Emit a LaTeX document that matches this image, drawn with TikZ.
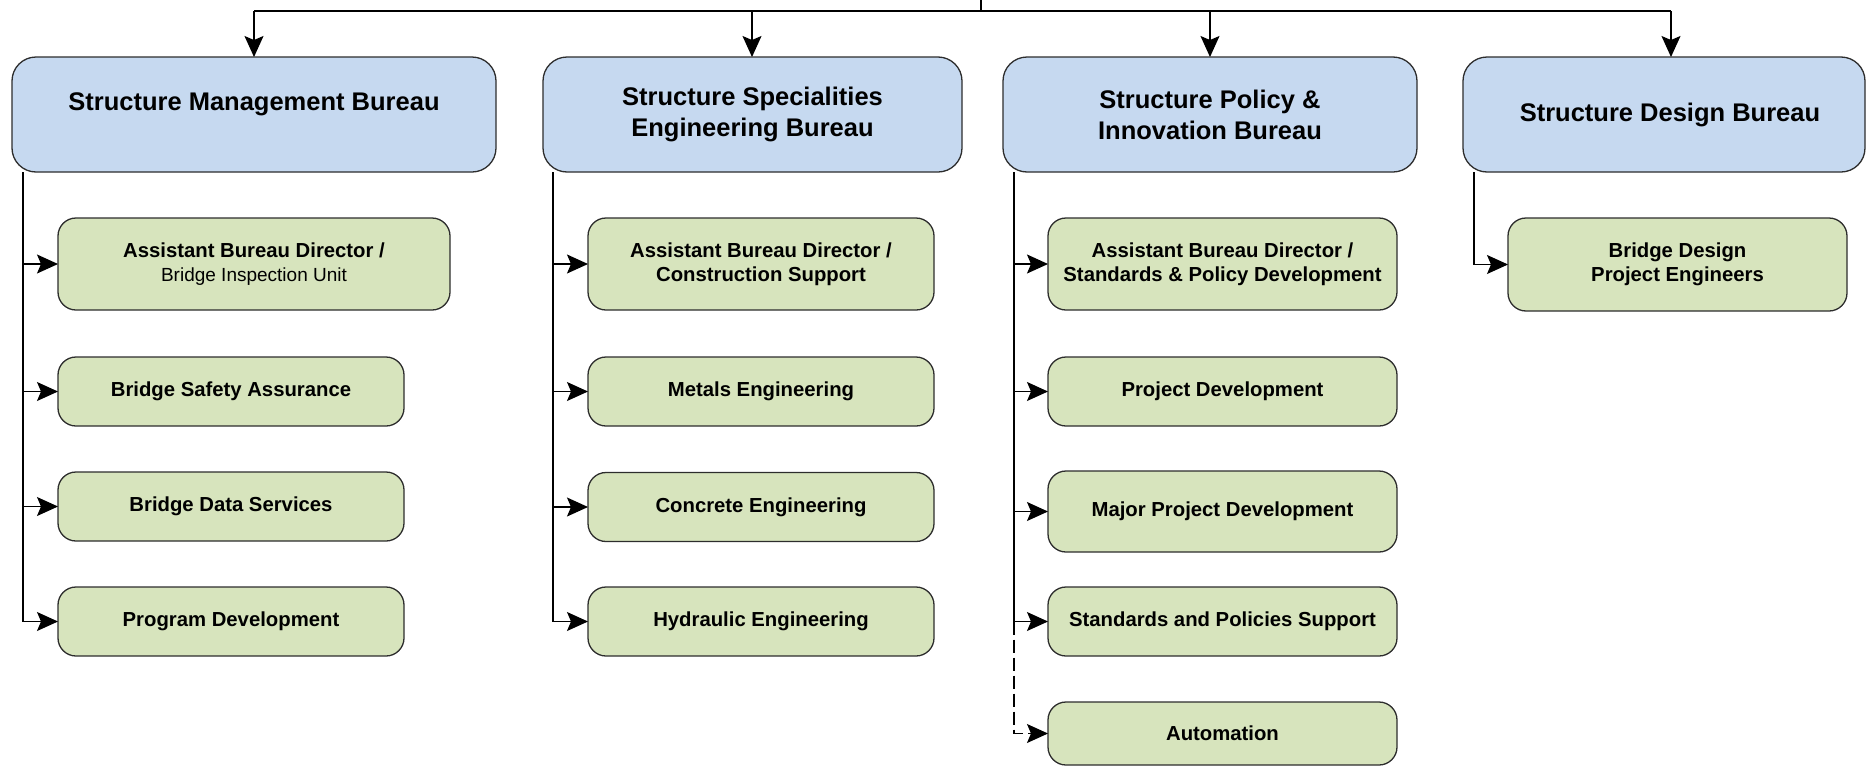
\documentclass[tikz,border=0pt]{standalone}
\usepackage{fontspec}
\setmainfont{Liberation Sans}
\usetikzlibrary{arrows.meta}
\definecolor{bfill}{RGB}{198,217,240}
\definecolor{gfill}{RGB}{215,228,189}
\definecolor{edgec}{RGB}{45,45,45}
\begin{document}
\begin{tikzpicture}[x=1pt,y=-1pt,
  bureau/.style={draw=edgec, line width=1.3pt, fill=bfill, rounded corners=24pt, inner sep=0pt, outer sep=0pt},
  unit/.style={draw=edgec, line width=1.3pt, fill=gfill, rounded corners=18pt, inner sep=0pt, outer sep=0pt},
  btext/.style={font=\fontsize{25.5}{31}\selectfont\bfseries, align=center, inner sep=0pt},
  utext/.style={font=\fontsize{20.3}{23.5}\selectfont\bfseries, align=center, inner sep=0pt},
  conn/.style={line width=1.2pt, draw=black},
  arr/.style={conn, arrows={-Stealth[length=21pt,width=19pt,inset=4pt]}},
]
\useasboundingbox (0,0) rectangle (1866,766);

% bureaus
\node[bureau, minimum width=484pt, minimum height=115pt] (b1) at (254,114.5) {};
\node[btext] (b1t) at (254,104) {Structure Management Bureau};
\node[bureau, btext, minimum width=419pt, minimum height=115pt] (b2) at (752.5,114.5) {Structure Specialities\\Engineering Bureau};
\node[bureau, btext, minimum width=414pt, minimum height=115pt] (b3) at (1210,114.5) {Structure Policy \&\\Innovation Bureau};
\node[bureau, minimum width=402pt, minimum height=115pt] (b4) at (1664,114.5) {};
\node[btext] (b4t) at (1670,115) {Structure Design Bureau};

% column 1
\node[unit, utext, minimum width=392pt, minimum height=92pt] (u11) at (254,264) {Assistant Bureau Director /\\{\fontsize{19}{23.5}\selectfont\mdseries Bridge Inspection Unit}};
\node[unit, utext, minimum width=346pt, minimum height=69pt] (u12) at (231,391.5) {Bridge Safety Assurance};
\node[unit, utext, minimum width=346pt, minimum height=69pt] (u13) at (231,506.5) {Bridge Data Services};
\node[unit, utext, minimum width=346pt, minimum height=69pt] (u14) at (231,621.5) {Program Development};

% column 2
\node[unit, utext, minimum width=346pt, minimum height=92pt] (u21) at (761,264) {Assistant Bureau Director /\\Construction Support};
\node[unit, utext, minimum width=346pt, minimum height=69pt] (u22) at (761,391.5) {Metals Engineering};
\node[unit, utext, minimum width=346pt, minimum height=69pt] (u23) at (761,507) {Concrete Engineering};
\node[unit, utext, minimum width=346pt, minimum height=69pt] (u24) at (761,621.5) {Hydraulic Engineering};

% column 3
\node[unit, utext, minimum width=349pt, minimum height=92pt] (u31) at (1222.5,264) {Assistant Bureau Director /\\Standards \& Policy Development};
\node[unit, utext, minimum width=349pt, minimum height=69pt] (u32) at (1222.5,391.5) {Project Development};
\node[unit, utext, minimum width=349pt, minimum height=81pt] (u33) at (1222.5,511.5) {Major Project Development};
\node[unit, utext, minimum width=349pt, minimum height=69pt] (u34) at (1222.5,621.5) {Standards and Policies Support};
\node[unit, utext, minimum width=349pt, minimum height=63pt] (u35) at (1222.5,733.5) {Automation};

% column 4
\node[unit, utext, minimum width=339pt, minimum height=93pt] (u41) at (1677.5,264.5) {Bridge Design\\Project Engineers};

% top connectors
\coordinate (top) at (981,0);
\coordinate (j) at (981,11);
\coordinate (h1) at (254,11);
\coordinate (h2) at (752,11);
\coordinate (h3) at (1210,11);
\coordinate (h4) at (1671,11);
\draw[conn] (top) -- (j);
\draw[conn] (h1) -- (h4);
\draw[arr] (h1) -- (h1 |- b1.north);
\draw[arr] (h2) -- (h2 |- b2.north);
\draw[arr] (h3) -- (h3 |- b3.north);
\draw[arr] (h4) -- (h4 |- b4.north);

% trunks
\coordinate (t1) at (23,0);
\coordinate (t2) at (553,0);
\coordinate (t3) at (1014,0);
\coordinate (t4) at (1474,0);

\foreach \u in {u11,u12,u13,u14}{\draw[arr] (t1 |- b1.south) |- (\u.west);}
\foreach \u in {u21,u22,u23,u24}{\draw[arr] (t2 |- b2.south) |- (\u.west);}
\foreach \u in {u31,u32,u33,u34}{\draw[arr] (t3 |- b3.south) |- (\u.west);}
\draw[arr, dash pattern=on 13pt off 5pt] (t3 |- u34.west) |- (u35.west);
\draw[arr] (t4 |- b4.south) |- (u41.west);
\end{tikzpicture}
\end{document}
